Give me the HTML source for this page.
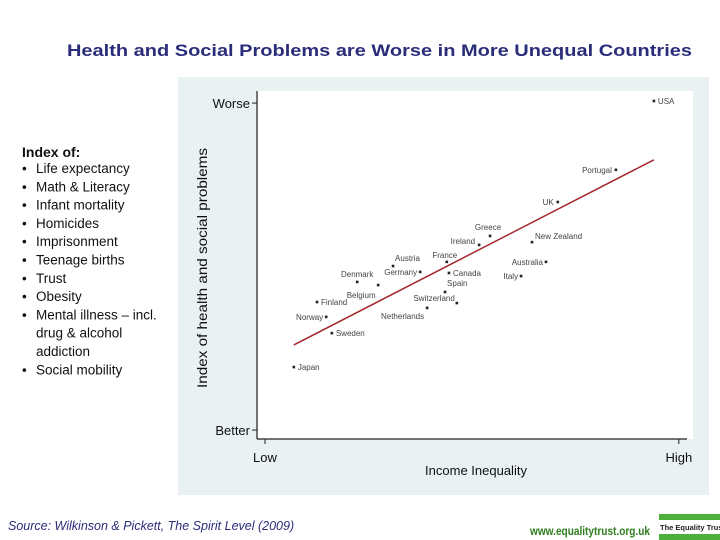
<!DOCTYPE html>
<html><head><meta charset="utf-8"><style>
body{margin:0;background:#fff;}
svg{display:block;font-family:"Liberation Sans",Arial,sans-serif;}
</style></head><body>
<svg id="chart" width="720" height="540" viewBox="0 0 720 540" xmlns="http://www.w3.org/2000/svg">
<rect x="0" y="0" width="720" height="540" fill="#fff"/>
<text x="67" y="56" font-size="17" font-weight="bold" fill="#2b2d7a" textLength="625" lengthAdjust="spacingAndGlyphs">Health and Social Problems are Worse in More Unequal Countries</text>
<rect x="178" y="77" width="531" height="418" fill="#e9f1f3"/>
<rect x="258" y="91" width="435" height="348" fill="#fff"/>
<g font-size="13.5" fill="#111">
<text x="22" y="157" font-weight="bold" font-size="14">Index of:</text>
<g id="items"></g>
</g>
<text transform="translate(207,268) rotate(-90)" text-anchor="middle" font-size="14" fill="#111" textLength="240" lengthAdjust="spacingAndGlyphs">Index of health and social problems</text>
<g id="axes" stroke="#222" stroke-width="1.2">
<line x1="257" y1="91" x2="257" y2="439"/>
<line x1="257" y1="439" x2="687" y2="439"/>
</g>
<g id="ticks"></g>
<text x="476" y="475" text-anchor="middle" font-size="13" fill="#111">Income Inequality</text>
<g id="marks"></g>
<text x="8" y="530" font-size="12.5" font-style="italic" fill="#2b2d7a">Source: Wilkinson &amp; Pickett, The Spirit Level (2009)</text>
<text x="530" y="535" font-size="12" font-weight="bold" fill="#2e7d1e" textLength="120" lengthAdjust="spacingAndGlyphs">www.equalitytrust.org.uk</text>
<g>
<rect x="659" y="514" width="61" height="6" fill="#4caf3a"/>
<rect x="659" y="534" width="61" height="6" fill="#4caf3a"/>
<text x="660" y="530" font-size="7.5" font-weight="bold" fill="#222">The Equality Trust</text>
</g>
</svg>
<script>
const countries=["USA","Portugal","UK","Greece","Ireland","New Zealand","France","Austria","Germany","Canada","Australia","Italy","Denmark","Belgium","Spain","Switzerland","Finland","Netherlands","Norway","Sweden","Japan"];
const inequality=[9.06,8.19,6.86,5.31,5.06,6.27,4.32,3.09,3.71,4.37,6.59,6.02,2.27,2.75,4.28,4.55,1.35,3.87,1.56,1.69,0.82];
const problems=[9.74,7.75,6.82,5.84,5.58,5.66,5.09,4.97,4.80,4.77,5.09,4.68,4.51,4.42,4.22,3.90,3.93,3.76,3.50,3.03,2.05];
const fitX=[0.82,9.06];
const fitY=[2.69,8.04];
const yTickLabels=["Better","Worse"];
const yTickValues=[0.23,9.68];
const xTickLabels=["Low","High"];
const xTickValues=[0.16,9.63];
const indexItems=["Life expectancy","Math & Literacy","Infant mortality","Homicides","Imprisonment","Teenage births","Trust","Obesity","Mental illness – incl.|drug & alcohol|addiction","Social mobility"];
// label placement: [dx, dy, anchor]
const labelPos={"USA":[4,3,"start"],"Portugal":[-4,3,"end"],"UK":[-4,3,"end"],"Greece":[-2,-6,"middle"],"Ireland":[-4,-1,"end"],"New Zealand":[3,-3,"start"],"France":[-2,-4,"middle"],"Austria":[2,-5,"start"],"Germany":[-3,3,"end"],"Canada":[4,3,"start"],"Australia":[-3,3,"end"],"Italy":[-3,3,"end"],"Denmark":[0,-5,"middle"],"Belgium":[-17,13,"middle"],"Spain":[2,-6,"start"],"Switzerland":[-2,-2,"end"],"Finland":[4,3,"start"],"Netherlands":[-3,11,"end"],"Norway":[-3,3,"end"],"Sweden":[4,3,"start"],"Japan":[4,3,"start"]};
const NS="http://www.w3.org/2000/svg";
function xs(v){return 258+v*43.7;}
function ys(v){return 438-v*34.6;}
function mk(tag,attrs,parent){const e=document.createElementNS(NS,tag);for(const k in attrs)e.setAttribute(k,attrs[k]);parent.appendChild(e);return e;}
const marks=document.getElementById('marks');
const fl=mk('line',{x1:xs(fitX[0]),y1:ys(fitY[0]),x2:xs(fitX[1]),y2:ys(fitY[1]),stroke:'#a3262b','stroke-width':1.5},marks);


countries.forEach((c,i)=>{
  const x=xs(inequality[i]),y=ys(problems[i]);
  const p=mk('rect',{x:x-1.3,y:y-1.3,width:2.6,height:2.6,fill:'#222'},marks);
  
  
  const lp=labelPos[c];
  const t=mk('text',{x:x+lp[0],y:y+lp[1],'text-anchor':lp[2],'font-size':8,fill:'#444'},marks);
  t.textContent=c;
  
  
});
const ticks=document.getElementById('ticks');
yTickLabels.forEach((l,i)=>{
  const y=ys(yTickValues[i]);
  const tl=mk('line',{x1:252,y1:y,x2:257,y2:y,stroke:'#222'},ticks);
  
  
  const t=mk('text',{x:250,y:y+5,'text-anchor':'end','font-size':13,fill:'#111'},ticks);
  t.textContent=l;
  
  
});
xTickLabels.forEach((l,i)=>{
  const x=xs(xTickValues[i]);
  const tl=mk('line',{x1:x,y1:439,x2:x,y2:444,stroke:'#222'},ticks);
  
  
  const t=mk('text',{x:x,y:462,'text-anchor':'middle','font-size':13,fill:'#111'},ticks);
  t.textContent=l;
  
  
});
const items=document.getElementById('items');
let yy=173;
indexItems.forEach((it,i)=>{
  const b=mk('text',{x:22,y:yy,'font-size':13.5},items);
  b.textContent='•';
  
  
  it.split('|').forEach(line=>{
    const t=mk('text',{x:36,y:yy,'font-size':13.5},items);
    t.textContent=line;
    
    
    yy+=18.3;
  });
});
</script>
</body></html>
